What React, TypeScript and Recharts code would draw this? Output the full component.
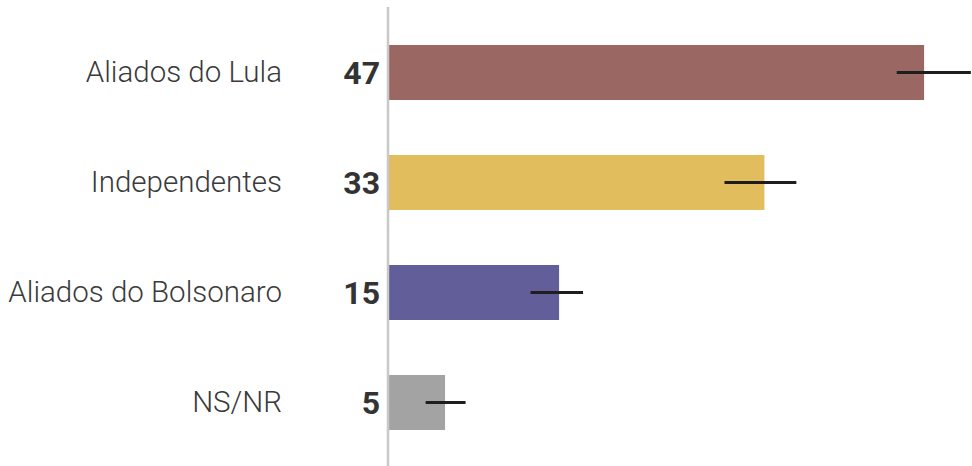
import { BarChart, Bar, XAxis, YAxis, ErrorBar, LabelList, Cell } from "recharts"

const categories = ["Aliados do Lula", "Independentes", "Aliados do Bolsonaro", "NS/NR"]
const values = [47, 33, 15, 5]
const lows = [44.6, 29.5, 12.5, 3.3]
const highs = [51.1, 35.8, 17.1, 6.8]
const colors = ["#9a6762", "#e2bd5e", "#625e99", "#a3a3a3"]

const data = categories.map((name, i) => ({
    name,
    value: values[i],
    err: [values[i] - lows[i], highs[i] - values[i]],
}))

const App = () => {
    return (
        <div style={{ position: "absolute", left: 0, top: 0 }}>
            <BarChart
                width={972}
                height={466}
                data={data}
                layout="vertical"
                margin={{ top: 7, right: 0, bottom: 0, left: 0 }}
                barSize={55}
            >
                <XAxis type="number" hide domain={[0, 51.2]} allowDataOverflow />
                <YAxis
                    type="category"
                    dataKey="name"
                    width={388}
                    padding={{ top: 10, bottom: 9 }}
                    axisLine={{ stroke: "#c8c8c8", strokeWidth: 2.5 }}
                    tickLine={false}
                    tickSize={0}
                    tickMargin={106}
                    tick={{
                        fill: "#3a3a3a",
                        fontSize: 29.5,
                        fontFamily: "Roboto",
                        fontWeight: 300,
                    }}
                />
                <Bar dataKey="value" isAnimationActive={false}>
                    {data.map((d, i) => (
                        <Cell key={d.name} fill={colors[i]} />
                    ))}
                    <LabelList
                        dataKey="value"
                        position="left"
                        offset={8}
                        fill="#333"
                        fontSize={32}
                        fontWeight={700}
                        fontFamily="Roboto"
                    />
                    <ErrorBar
                        dataKey="err"
                        direction="x"
                        width={0}
                        stroke="#1e1e1e"
                        strokeWidth={3}
                    />
                </Bar>
            </BarChart>
        </div>
    )
}

export default App
